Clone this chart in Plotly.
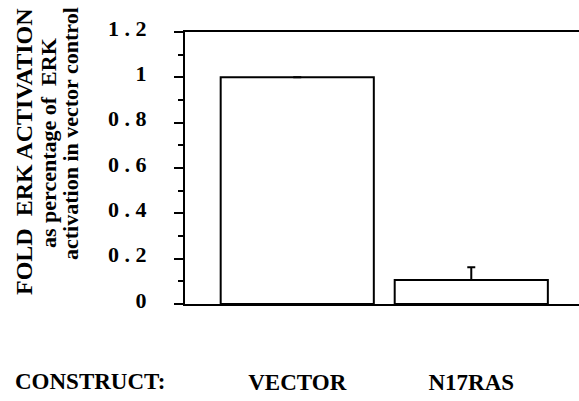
import plotly.graph_objects as go

# ---- data ----
constructs = ["VECTOR", "N17RAS"]
fold_activation = [1.0, 0.106]
error_plus = [0.0, 0.056]
y_tick_vals = [0, 0.2, 0.4, 0.6, 0.8, 1.0, 1.2]
y_tick_text = ["0", "0 . 2", "0 . 4", "0 . 6", "0 . 8", "1", "1 . 2"]
y_title_lines = ["FOLD  ERK ACTIVATION", "as percentage of  ERK", "activation in vector control"]
x_axis_label = "CONSTRUCT:"

FONT = "Liberation Serif"
W, H = 579, 401
L, R, T, B = 185, 0, 32, 97
pw, ph = W - L - R, H - T - B

def px(xp):
    return (xp - L) / pw

def py(yp):
    return (H - B - yp) / ph

def bold(s):
    return f"<b>{s}</b>"

fig = go.Figure()
fig.add_trace(go.Bar(
    x=constructs,
    y=fold_activation,
    width=0.88,
    marker=dict(color="white", line=dict(color="black", width=2)),
    error_y=dict(type="data", array=error_plus, arrayminus=[0, 0], symmetric=False,
                 color="black", thickness=2, width=4),
    showlegend=False,
))

fig.update_layout(
    width=W, height=H,
    margin=dict(l=L, r=R, t=T, b=B, pad=0),
    paper_bgcolor="white", plot_bgcolor="white",
    font=dict(family=FONT, color="black"),
    xaxis=dict(
        range=[-0.645, 1.619],
        showline=True, linecolor="black", linewidth=2, mirror=True,
        ticks="", showgrid=False, zeroline=False,
        tickmode="array", tickvals=constructs, ticktext=[bold(c) for c in constructs],
        tickfont=dict(family=FONT, size=23, color="black"),
        ticklabelstandoff=56,
    ),
    yaxis=dict(
        range=[0, 1.2],
        showline=True, linecolor="black", linewidth=2,
        showgrid=False, zeroline=False,
        tickmode="array", tickvals=y_tick_vals, ticktext=[bold(t) for t in y_tick_text],
        ticks="outside", ticklen=9, tickwidth=2, tickcolor="black",
        minor=dict(dtick=0.1, ticks="outside", ticklen=5, tickwidth=2, tickcolor="black"),
        tickfont=dict(family=FONT, size=22, color="black"),
        ticklabelstandoff=23,
        ticklabelshift=-4,
    ),
)

# y title lines (rotated)
title_specs = [(24, 152, 24), (48, 143, 22), (70, 134, 22)]
for text, (cx, cy, fs) in zip(y_title_lines, title_specs):
    fig.add_annotation(
        text=bold(text), xref="paper", yref="paper",
        x=px(cx), y=py(cy), xanchor="center", yanchor="middle",
        textangle=-90, showarrow=False,
        font=dict(family=FONT, size=fs, color="black"),
    )

fig.add_annotation(
    text=bold(x_axis_label), xref="paper", yref="paper",
    x=px(90), y=py(381.5), xanchor="center", yanchor="middle",
    showarrow=False, font=dict(family=FONT, size=23, color="black"),
)

fig.write_html("out.html")
